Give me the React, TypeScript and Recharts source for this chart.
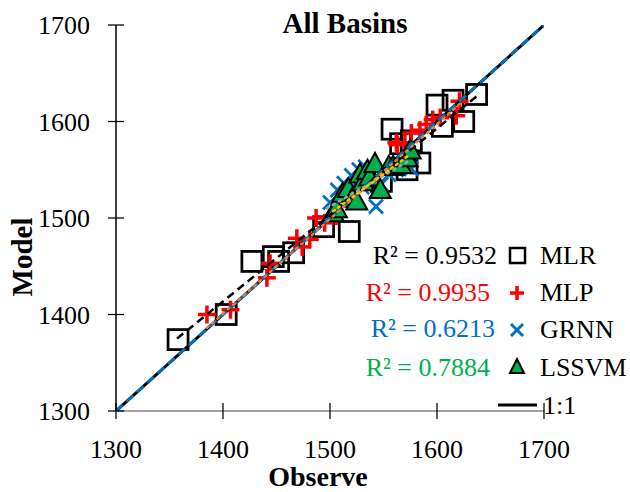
import React from 'react';
import { ScatterChart, Scatter, XAxis, YAxis } from 'recharts';

// axis ticks (same scale on both axes)
const axisTicks = [1300, 1400, 1500, 1600, 1700];

// [observe, model] pairs per model
const mlrPoints = [
  [1358, 1374], [1403, 1400], [1427, 1455], [1447, 1460], [1452, 1455],
  [1466, 1464], [1494, 1491], [1518, 1486], [1537, 1543], [1548, 1538],
  [1558, 1592], [1566, 1577], [1572, 1550], [1576, 1580], [1584, 1557],
  [1600, 1617], [1605, 1595], [1615, 1622], [1625, 1600], [1637, 1628],
];

const mlpPoints = [
  [1385, 1400], [1407, 1405], [1441, 1438], [1444, 1453], [1469, 1479],
  [1474, 1470], [1481, 1478], [1487, 1500], [1495, 1495], [1506, 1502],
  [1562, 1578], [1563, 1576], [1570, 1578], [1576, 1588], [1584, 1591],
  [1590, 1597], [1596, 1602], [1603, 1604], [1618, 1606], [1621, 1621],
];

const grnnPoints = [
  [1500, 1516], [1507, 1529], [1513, 1536], [1520, 1544], [1527, 1550],
  [1533, 1553], [1520, 1522], [1530, 1532], [1538, 1546], [1543, 1512],
  [1548, 1535], [1555, 1545], [1562, 1550], [1570, 1556], [1576, 1551],
  [1528, 1540],
];

const lssvmPoints = [
  [1503, 1504], [1506, 1508], [1512, 1524], [1517, 1529], [1521, 1519],
  [1525, 1516], [1528, 1544], [1531, 1536], [1535, 1548], [1537, 1541],
  [1542, 1555], [1547, 1528], [1555, 1552], [1559, 1552], [1566, 1554],
  [1572, 1561], [1575, 1569],
];

// trendline end points
const oneToOne = [[1300, 1300], [1700, 1700]];
const mlrTrend = [[1357, 1375], [1637, 1626]];
const mlpTrend = [[1385, 1386], [1623, 1620]];
const grnnTrend = [[1497, 1510], [1575, 1560]];
const lssvmTrend = [[1503, 1507], [1575, 1566]];

const toXY = (pts: number[][]) => pts.map(([x, y]) => ({ x, y }));

const FONT = 'Liberation Serif, Times New Roman, serif';

const Square = ({ cx, cy }: any) => (
  <rect x={cx - 10} y={cy - 10} width={20} height={20} fill="none" stroke="#000" strokeWidth={2.75} />
);

const Plus = ({ cx, cy }: any) => (
  <g stroke="#FF0000" strokeWidth={3.5}>
    <line x1={cx - 9} x2={cx + 9} y1={cy} y2={cy} />
    <line x1={cx} x2={cx} y1={cy - 9} y2={cy + 9} />
  </g>
);

const Cross = ({ cx, cy }: any) => (
  <g stroke="#0070C0" strokeWidth={2.75}>
    <line x1={cx - 7} x2={cx + 7} y1={cy - 7} y2={cy + 7} />
    <line x1={cx - 7} x2={cx + 7} y1={cy + 7} y2={cy - 7} />
  </g>
);

const Triangle = ({ cx, cy }: any) => (
  <polygon
    points={`${cx},${cy - 12} ${cx - 10.5},${cy + 7} ${cx + 10.5},${cy + 7}`}
    fill="#00B050"
    stroke="#000"
    strokeWidth={2}
    strokeLinejoin="miter"
  />
);

const NoDot = () => <g />;

const XTick = ({ x, y, payload }: any) => (
  <g>
    <line x1={x} x2={x} y1={y - 37} y2={y - 21} stroke="#000" strokeWidth={1.25} />
    <text x={x} y={y} dy="0.71em" textAnchor="middle" style={{ fontFamily: FONT }} fontSize={26} fill="#000">
      {payload.value}
    </text>
  </g>
);

const YTick = ({ x, y, payload }: any) => (
  <g>
    <line x1={x + 18} x2={x + 34} y1={y} y2={y} stroke="#000" strokeWidth={1.25} />
    <text x={x} y={y} dy="0.35em" textAnchor="end" style={{ fontFamily: FONT }} fontSize={26} fill="#000">
      {payload.value}
    </text>
  </g>
);

export default function App() {
  return (
    <div style={{ position: 'absolute', left: 0, top: 0, width: 630, height: 492, background: '#fff' }}>
      <ScatterChart width={630} height={492} margin={{ top: 25, right: 86, bottom: 0, left: 0 }}>
        <XAxis
          type="number"
          dataKey="x"
          domain={[1300, 1700]}
          ticks={axisTicks}
          interval={0}
          allowDataOverflow
          height={81}
          tickSize={0}
          tickMargin={29}
          tick={(p: any) => <XTick {...p} />}
          axisLine={{ stroke: '#868686', strokeWidth: 1.5 }}
        />
        <YAxis
          type="number"
          dataKey="y"
          domain={[1300, 1700]}
          ticks={axisTicks}
          interval={0}
          allowDataOverflow
          width={116}
          tickSize={0}
          tickMargin={26}
          tick={(p: any) => <YTick {...p} />}
          axisLine={{ stroke: '#000', strokeWidth: 1.5 }}
        />
        <Scatter data={toXY(mlrPoints)} shape={Square} isAnimationActive={false} />
        <Scatter data={toXY(mlpPoints)} shape={Plus} isAnimationActive={false} />
        <Scatter data={toXY(grnnPoints)} shape={Cross} isAnimationActive={false} />
        <Scatter data={toXY(lssvmPoints)} shape={Triangle} isAnimationActive={false} />

        <Scatter data={toXY(oneToOne)} shape={NoDot} line={{ stroke: '#000', strokeWidth: 3 }} isAnimationActive={false} />
        <Scatter
          data={toXY(oneToOne)}
          shape={NoDot}
          line={{ stroke: '#0070C0', strokeWidth: 3, strokeDasharray: '9 5' }}
          isAnimationActive={false}
        />
        <Scatter
          data={toXY(mlrTrend)}
          shape={NoDot}
          line={{ stroke: '#000', strokeWidth: 2.5, strokeDasharray: '8 5' }}
          isAnimationActive={false}
        />
        <Scatter
          data={toXY(mlpTrend)}
          shape={NoDot}
          line={{ stroke: '#ED7D31', strokeWidth: 2.5, strokeDasharray: '2 5', strokeLinecap: 'round' }}
          isAnimationActive={false}
        />
        <Scatter
          data={toXY(grnnTrend)}
          shape={NoDot}
          line={{ stroke: '#A5A5A5', strokeWidth: 2.5, strokeDasharray: '2 5', strokeLinecap: 'round' }}
          isAnimationActive={false}
        />
        <Scatter
          data={toXY(lssvmTrend)}
          shape={NoDot}
          line={{ stroke: '#FFC000', strokeWidth: 2.5, strokeDasharray: '2 4', strokeLinecap: 'round' }}
          isAnimationActive={false}
        />
      </ScatterChart>

      <svg
        width={630}
        height={492}
        style={{ position: 'absolute', left: 0, top: 0, pointerEvents: 'none', fontFamily: FONT }}
      >
        <text x={345} y={33} textAnchor="middle" fontSize={29} fontWeight="bold">All Basins</text>
        <text x={318} y={486} textAnchor="middle" fontSize={28} fontWeight="bold">Observe</text>
        <text
          x={0}
          y={0}
          transform="translate(32 257) rotate(-90)"
          textAnchor="middle"
          fontSize={29}
          fontWeight="bold"
        >
          Model
        </text>

        <g fontSize={26}>
          <text x={497} y={255} dy="0.35em" textAnchor="end" fill="#000">R² = 0.9532</text>
          <text x={490} y={292} dy="0.35em" textAnchor="end" fill="#FF0000">R² = 0.9935</text>
          <text x={495} y={328} dy="0.35em" textAnchor="end" fill="#0070C0">R² = 0.6213</text>
          <text x={490} y={367} dy="0.35em" textAnchor="end" fill="#00B050">R² = 0.7884</text>

          <rect x={510} y={248} width={15} height={15} fill="none" stroke="#000" strokeWidth={2.5} />
          <g stroke="#FF0000" strokeWidth={3.5}>
            <line x1={510} x2={524} y1={293} y2={293} />
            <line x1={517} x2={517} y1={286} y2={300} />
          </g>
          <g stroke="#0070C0" strokeWidth={3}>
            <line x1={511} x2={523} y1={324} y2={336} />
            <line x1={511} x2={523} y1={336} y2={324} />
          </g>
          <polygon points="517,359 510,373 524,373" fill="#00B050" stroke="#000" strokeWidth={2} />
          <line x1={498} x2={537} y1={405} y2={405} stroke="#000" strokeWidth={3} />

          <text x={540} y={255} dy="0.35em" fill="#000">MLR</text>
          <text x={540} y={292} dy="0.35em" fill="#000">MLP</text>
          <text x={540} y={329} dy="0.35em" fill="#000">GRNN</text>
          <text x={540} y={367} dy="0.35em" fill="#000">LSSVM</text>
          <text x={543} y={405} dy="0.35em" fill="#000">1:1</text>
        </g>
      </svg>
    </div>
  );
}
